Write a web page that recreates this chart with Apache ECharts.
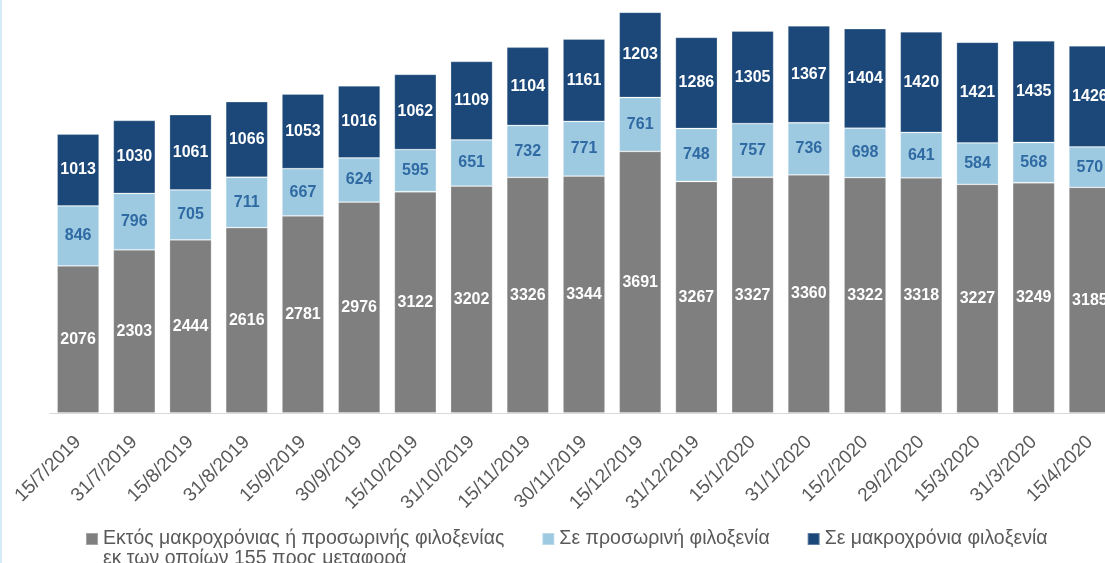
<!DOCTYPE html>
<html>
<head>
<meta charset="utf-8">
<script src="https://cdn.jsdelivr.net/npm/echarts@6/dist/echarts.min.js"></script>
<style>
    html, body {
        margin: 0;
        padding: 0;
        width: 1105px;
        height: 563px;
        overflow: hidden;
        background: #fff;
    }
    #edge {
        position: absolute;
        left: 0;
        top: 0;
        width: 2px;
        height: 563px;
        background: #d6ebf8;
        z-index: 2;
    }
    #chart {
        width: 1130px;
        height: 563px;
    }
</style>
</head>
<body>
<div id="edge"></div>
<div id="chart"></div>
<script>
const dates = [
    '15/7/2019', '31/7/2019', '15/8/2019', '31/8/2019', '15/9/2019', '30/9/2019',
    '15/10/2019', '31/10/2019', '15/11/2019', '30/11/2019', '15/12/2019', '31/12/2019',
    '15/1/2020', '31/1/2020', '15/2/2020', '29/2/2020', '15/3/2020', '31/3/2020', '15/4/2020'
];
const outside = [2076, 2303, 2444, 2616, 2781, 2976, 3122, 3202, 3326, 3344, 3691, 3267, 3327, 3360, 3322, 3318, 3227, 3249, 3185];
const temporary = [846, 796, 705, 711, 667, 624, 595, 651, 732, 771, 761, 748, 757, 736, 698, 641, 584, 568, 570];
const longTerm = [1013, 1030, 1061, 1066, 1053, 1016, 1062, 1109, 1104, 1161, 1203, 1286, 1305, 1367, 1404, 1420, 1421, 1435, 1426];

const names = [
    'Εκτός μακροχρόνιας ή προσωρινής φιλοξενίας\nεκ των οποίων 155 προς μεταφορά',
    'Σε προσωρινή φιλοξενία',
    'Σε μακροχρόνια φιλοξενία'
];

const font = '"Liberation Sans", "DejaVu Sans", sans-serif';

const chart = echarts.init(document.getElementById('chart'));

function barSeries(name, data, color, labelColor) {
    return {
        name: name,
        type: 'bar',
        stack: 'total',
        data: data,
        barWidth: 42,
        itemStyle: {
            color: color,
            borderColor: 'rgba(255,255,255,0.3)',
            borderWidth: 0.8
        },
        label: {
            show: true,
            position: 'inside',
            color: labelColor,
            fontFamily: font,
            fontWeight: 'bold',
            fontSize: 16
        }
    };
}

chart.setOption({
    animation: false,
    grid: {
        left: 50,
        width: 1068,
        top: 2,
        bottom: 150
    },
    legend: {
        left: 85,
        top: 509,
        padding: 0,
        itemWidth: 12,
        itemHeight: 12,
        itemGap: 37,
        icon: 'rect',
        data: names,
        // blank first line keeps the marker level with the first text line
        formatter: function (name) {
            return name === names[0] ? ' \n' + name : name;
        },
        textStyle: {
            color: '#595959',
            fontFamily: font,
            fontSize: 19.5,
            lineHeight: 20
        }
    },
    xAxis: {
        type: 'category',
        data: dates,
        axisLine: { lineStyle: { color: '#d9d9d9', width: 1 } },
        axisTick: { length: 6, lineStyle: { color: '#d9d9d9' } },
        axisLabel: {
            rotate: 45,
            margin: 26,
            color: '#595959',
            fontFamily: font,
            fontSize: 19,
            interval: 0
        }
    },
    yAxis: {
        type: 'value',
        min: 0,
        max: 5800,
        show: false,
        splitLine: { show: false }
    },
    series: [
        barSeries(names[0], outside, '#7f7f7f', '#ffffff'),
        barSeries(names[1], temporary, '#9ecae1', '#2f6aa3'),
        barSeries(names[2], longTerm, '#1b4879', '#ffffff')
    ]
});
</script>
</body>
</html>
